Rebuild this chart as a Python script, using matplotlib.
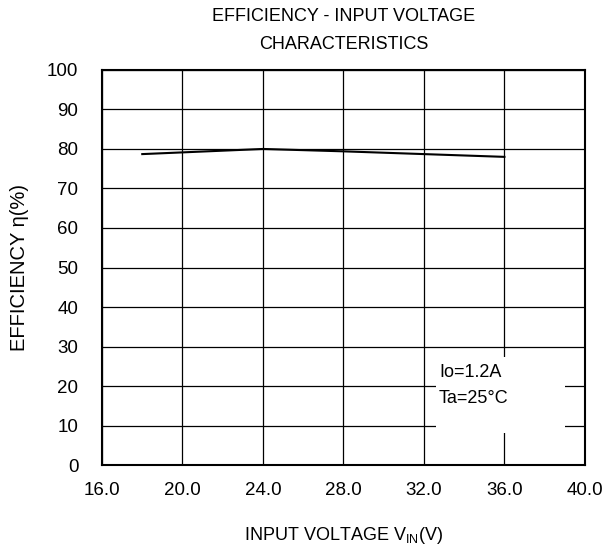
import numpy as np
import matplotlib.pyplot as plt
from matplotlib.patches import Rectangle

plt.rcParams['font.family'] = ['Liberation Sans', 'DejaVu Sans']

vin = [18.0, 24.0, 28.0, 32.0, 36.0]
eff = [78.7, 80.0, 79.4, 78.7, 78.0]
xticks = [16.0, 20.0, 24.0, 28.0, 32.0, 36.0, 40.0]
yticks = [0, 10, 20, 30, 40, 50, 60, 70, 80, 90, 100]

fig = plt.figure(figsize=(6.12, 5.55), dpi=100)
ax = fig.add_axes([0.1667, 0.162, 0.789, 0.712])

ax.plot(vin, eff, color='black', lw=1.5, zorder=3)

ax.set_xlim(16, 40)
ax.set_ylim(0, 100)
ax.set_xticks(xticks)
ax.set_xticklabels(['%.1f' % t for t in xticks])
ax.set_yticks(yticks)
ax.grid(True, color='black', lw=0.9)
ax.tick_params(length=0, labelsize=13.5, pad=12)
ax.tick_params(axis='y', pad=17)
for s in ax.spines.values():
    s.set_linewidth(1.5)

# white box behind the condition text
ax.add_patch(Rectangle((32.6, 8.0), 6.4, 19.3, facecolor='white',
                       edgecolor='none', zorder=2))
ax.text(32.75, 23.4, 'Io=1.2A', fontsize=13, va='center', zorder=4)
ax.text(32.75, 16.9, 'Ta=25°C', fontsize=13, va='center', zorder=4)

ax.set_xlabel('INPUT VOLTAGE V$_{\\mathregular{IN}}$(V)', fontsize=13, labelpad=19)
ax.set_ylabel('EFFICIENCY η(%)', fontsize=14.5, labelpad=13)
ax.set_title('EFFICIENCY - INPUT VOLTAGE\nCHARACTERISTICS', fontsize=13,
             linespacing=1.85, pad=15)

fig.savefig('out.png', dpi=100)
